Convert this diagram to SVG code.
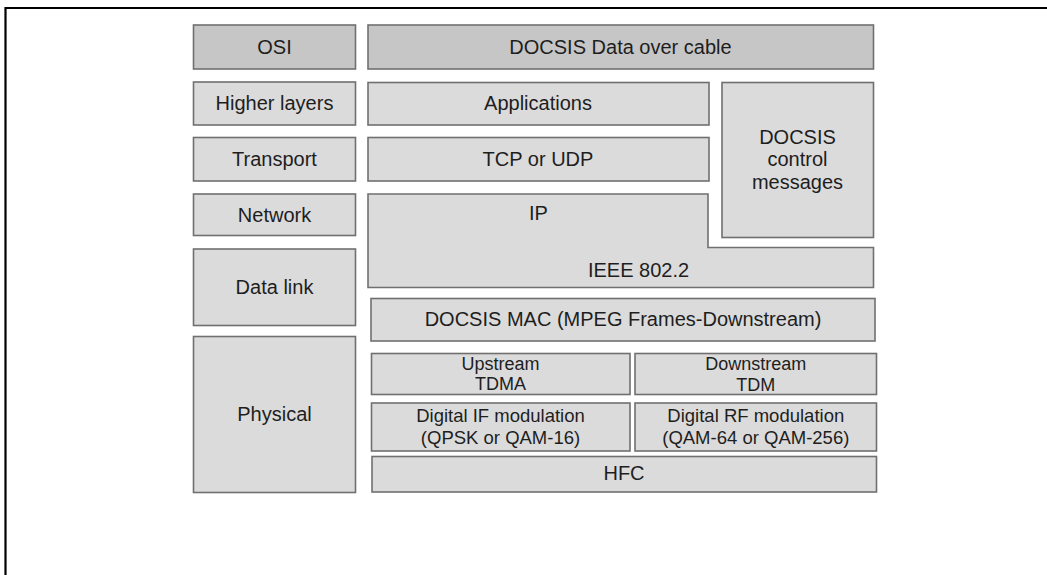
<svg xmlns="http://www.w3.org/2000/svg" width="1047" height="575" viewBox="0 0 1047 575">
  <style>
    .box { fill: #dbdbdb; stroke: #707070; stroke-width: 1.6; }
    .head { fill: #c6c6c6; stroke: #707070; stroke-width: 1.6; }
    .lbl { font-family: "Liberation Sans", Arial, sans-serif; font-size: 20px; fill: #1e1e1e; text-anchor: middle; }
    .sm { font-size: 18.5px; }
    .xs { font-size: 18px; }
    .frame { fill: none; stroke: #000; stroke-width: 2.2; }
  </style>
  <rect width="1047" height="575" fill="#ffffff"/>
  <!-- page frame (open on the right and bottom) -->
  <path class="frame" d="M5.5 575 V8 H1047"/>

  <!-- OSI column -->
  <g id="osi-header">
    <rect class="head" x="193.5" y="25" width="162" height="44"/>
    <text class="lbl" x="274.5" y="54">OSI</text>
  </g>
  <g id="osi-higher">
    <rect class="box" x="193.5" y="82" width="162" height="43"/>
    <text class="lbl" x="274.5" y="110">Higher layers</text>
  </g>
  <g id="osi-transport">
    <rect class="box" x="193.5" y="137.5" width="162" height="43.5"/>
    <text class="lbl" x="274.5" y="166">Transport</text>
  </g>
  <g id="osi-network">
    <rect class="box" x="193.5" y="194" width="162" height="41.5"/>
    <text class="lbl" x="274.5" y="222">Network</text>
  </g>
  <g id="osi-datalink">
    <rect class="box" x="193.5" y="249" width="162" height="76.5"/>
    <text class="lbl" x="274.5" y="293.5">Data link</text>
  </g>
  <g id="osi-physical">
    <rect class="box" x="193.5" y="336.5" width="162" height="156"/>
    <text class="lbl" x="274.5" y="421">Physical</text>
  </g>

  <!-- DOCSIS column -->
  <g id="docsis-header">
    <rect class="head" x="368" y="25" width="505.5" height="44"/>
    <text class="lbl" x="620.5" y="54">DOCSIS Data over cable</text>
  </g>
  <g id="applications">
    <rect class="box" x="368" y="82.5" width="341" height="42.5"/>
    <text class="lbl" x="538" y="110">Applications</text>
  </g>
  <g id="tcp-udp">
    <rect class="box" x="368" y="137.5" width="341" height="43.5"/>
    <text class="lbl" x="538" y="166">TCP or UDP</text>
  </g>
  <g id="control-messages">
    <rect class="box" x="722" y="82.5" width="151.5" height="155"/>
    <text class="lbl" x="797.5" y="143.5">DOCSIS</text>
    <text class="lbl" x="797.5" y="166">control</text>
    <text class="lbl" x="797.5" y="188.5">messages</text>
  </g>
  <g id="ip-llc">
    <path class="box" d="M368 194 H708 V247.5 H873.5 V287.5 H368 Z"/>
    <text class="lbl" x="538.5" y="219.5">IP</text>
    <text class="lbl" x="638.5" y="277">IEEE 802.2</text>
  </g>
  <g id="docsis-mac">
    <rect class="box" x="371" y="298.5" width="504" height="42.5"/>
    <text class="lbl" x="623" y="325.5">DOCSIS MAC (MPEG Frames-Downstream)</text>
  </g>
  <g id="upstream">
    <rect class="box" x="371.5" y="353.5" width="258.5" height="41"/>
    <text class="lbl xs" x="500.5" y="369.5">Upstream</text>
    <text class="lbl xs" x="500.5" y="390">TDMA</text>
  </g>
  <g id="downstream">
    <rect class="box" x="635" y="353.5" width="241.5" height="41"/>
    <text class="lbl xs" x="755.8" y="370">Downstream</text>
    <text class="lbl xs" x="755.8" y="390.5">TDM</text>
  </g>
  <g id="if-modulation">
    <rect class="box" x="371.5" y="403" width="258.5" height="48"/>
    <text class="lbl sm" x="500.5" y="421.5">Digital IF modulation</text>
    <text class="lbl sm" x="500.5" y="443.5">(QPSK or QAM-16)</text>
  </g>
  <g id="rf-modulation">
    <rect class="box" x="635" y="403" width="241.5" height="48"/>
    <text class="lbl sm" x="755.8" y="421.5">Digital RF modulation</text>
    <text class="lbl sm" x="755.8" y="444">(QAM-64 or QAM-256)</text>
  </g>
  <g id="hfc">
    <rect class="box" x="372" y="456.5" width="504.5" height="35.5"/>
    <text class="lbl" x="624" y="480">HFC</text>
  </g>

  <!-- no connectors in this layer diagram -->
  <g id="connectors"/>
</svg>
